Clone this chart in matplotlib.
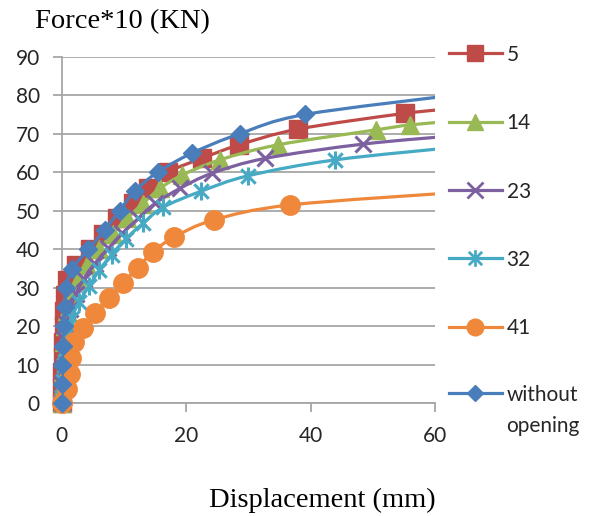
import numpy as np
import matplotlib
matplotlib.use('Agg')
import matplotlib.pyplot as plt
from matplotlib.path import Path
from matplotlib.patches import PathPatch
from matplotlib.lines import Line2D

# ---------------- data ----------------
labels = ['5', '14', '23', '32', '41', 'without opening']

x_5 = [0, 0.05, 0.1, 0.15, 0.2, 0.3, 0.4, 0.55, 0.9, 2.3, 4.5, 6.6, 8.9, 11.4, 13.9, 17.0, 22.5, 28.5, 38.0, 55.2, 64]
y_5 = [0, 4, 8, 12, 16, 20, 24, 28, 32, 36, 40, 44, 48, 52, 56, 60, 63.6, 67.1, 71.2, 75.3, 76.6]

x_14 = [0, 0.1, 0.15, 0.2, 0.3, 0.45, 0.8, 1.4, 2.6, 4.1, 6.0, 8.2, 10.5, 13.0, 15.8, 19.4, 25.4, 34.7, 50.5, 56.0, 64]
y_14 = [0, 4, 8, 12, 16, 20, 24, 28, 32, 36, 40, 44, 48, 51.8, 55.8, 59.3, 63.2, 67.1, 71.0, 72.3, 73.4]

x_23 = [0, 0.1, 0.15, 0.25, 0.4, 0.8, 1.4, 2.3, 3.6, 5.3, 7.5, 9.7, 12.3, 15.0, 19.0, 24.1, 32.7, 48.4, 64]
y_23 = [0, 5.1, 9.0, 12.9, 16.8, 20.7, 24.6, 28.5, 32.4, 36.3, 40.2, 44.1, 48.0, 51.9, 55.8, 59.7, 63.6, 67.3, 69.6]

x_32 = [0, 0.05, 0.15, 0.3, 0.55, 0.9, 1.6, 2.8, 4.4, 6.0, 8.0, 10.3, 13.1, 16.3, 22.3, 30.0, 43.9, 64]
y_32 = [0, 1.7, 5.8, 9.9, 14.0, 18.1, 22.2, 26.3, 30.4, 34.5, 38.6, 42.7, 46.8, 50.9, 55.0, 59.1, 63.2, 66.6]

x_41 = [0, 0.9, 1.3, 1.5, 1.9, 3.4, 5.4, 7.6, 9.8, 12.2, 14.6, 18.0, 24.4, 36.7, 64]
y_41 = [0, 3.8, 7.5, 11.8, 15.8, 19.6, 23.5, 27.4, 31.2, 35.2, 39.2, 43.1, 47.6, 51.5, 54.8]

x_wo = [0, 0.05, 0.1, 0.15, 0.3, 0.45, 0.7, 1.7, 4.3, 6.9, 9.3, 11.7, 15.4, 21.0, 28.6, 39.1, 64]
y_wo = [0, 5, 10, 15, 20, 25, 30, 35, 40, 45, 50, 55, 60, 65, 70, 75, 80.2]

xs = [x_5, x_14, x_23, x_32, x_41, x_wo]
ys = [y_5, y_14, y_23, y_32, y_41, y_wo]

x_ticks = [0, 20, 40, 60]
y_ticks = [0, 10, 20, 30, 40, 50, 60, 70, 80, 90]

# ---------------- styles ----------------
colors = ['#BE4B48', '#98B954', '#7D60A0', '#46AAC5', '#F0883C', '#4A7EBB']

star = Path([(0, -1), (0, 1), (-0.8, -0.8), (0.8, 0.8), (-0.8, 0.8), (0.8, -0.8)],
            [Path.MOVETO, Path.LINETO, Path.MOVETO, Path.LINETO, Path.MOVETO, Path.LINETO])
markers = ['s', '^', 'x', star, 'o', 'D']
msizes = [12.5, 13.5, 12, 13, 14, 9.5]
leg_msizes = [11.5, 12, 11, 12, 12, 8.5]
filled = [True, True, False, False, True, True]

plt.rcParams['font.family'] = ['Lato', 'DejaVu Sans']


def smooth_path(x, y):
    pts = np.column_stack([x, y]).astype(float)
    n = len(pts)
    verts = [pts[0]]
    codes = [Path.MOVETO]
    for i in range(n - 1):
        p0 = pts[i - 1] if i > 0 else pts[i]
        p1 = pts[i]
        p2 = pts[i + 1]
        p3 = pts[i + 2] if i + 2 < n else pts[i + 1]
        c1 = p1 + (p2 - p0) / 6.0
        c2 = p2 - (p3 - p1) / 6.0
        verts += [c1, c2, p2]
        codes += [Path.CURVE4] * 3
    return Path(verts, codes)


W, H = 597, 516
fig = plt.figure(figsize=(W / 100, H / 100), dpi=100)
x0, x1, yt, yb = 61.7, 435.2, 56.7, 403.3
ax = fig.add_axes([x0 / W, (H - yb) / H, (x1 - x0) / W, (yb - yt) / H])
ax.set_xlim(0, 60)
ax.set_ylim(0, 90)
ax.set_xticks(x_ticks)
ax.set_yticks(y_ticks)

grid_c = '#A6A6A6'
ax.yaxis.grid(True, color=grid_c, lw=1.3)
ax.set_axisbelow(True)
for s in ['top', 'right']:
    ax.spines[s].set_visible(False)
for s in ['left', 'bottom']:
    ax.spines[s].set_color(grid_c)
    ax.spines[s].set_linewidth(1.3)
ax.tick_params(axis='both', direction='out', color=grid_c, width=1.3,
               labelsize=15, labelcolor='#262626')
ax.tick_params(axis='y', length=6.3, pad=9.5)
ax.tick_params(axis='x', length=6.5, pad=10)

for i, (xx, yy) in enumerate(zip(xs, ys)):
    c = colors[i]
    ax.add_patch(PathPatch(smooth_path(xx, yy), fill=False, edgecolor=c, lw=2.3,
                           zorder=3 + 2 * i, capstyle='round', joinstyle='round'))
    xx_a = np.array(xx)
    yy_a = np.array(yy)
    keep = xx_a <= 60
    ax.plot(xx_a[keep], yy_a[keep], linestyle='none', marker=markers[i], ms=msizes[i],
            color=c, mfc=c if filled[i] else 'none', mec=c,
            mew=2.2 if not filled[i] else 1, clip_on=False, zorder=4 + 2 * i)

# texts
fig.text(35 / W, 1 - 28.5 / H, 'Force*10 (KN)', family='Liberation Serif', fontsize=20.5,
         ha='left', va='baseline', color='black')
fig.text(322.5 / W, 1 - 507 / H, 'Displacement (mm)', family='Liberation Serif', fontsize=20.5,
         ha='center', va='baseline', color='black')

# legend (manual, right side)
leg_y = [53.3, 121.7, 190, 258.3, 326.7, 393.3]
for i, lab in enumerate(labels):
    yy = 1 - leg_y[i] / H
    c = colors[i]
    fig.add_artist(Line2D([449 / W, 475.5 / W, 502 / W], [yy, yy, yy], transform=fig.transFigure,
                          color=c, lw=2.3, marker=markers[i], markevery=[1], ms=leg_msizes[i],
                          mfc=c if filled[i] else 'none', mec=c,
                          mew=2 if not filled[i] else 1))
    words = lab.split(' ')
    for k, w in enumerate(words):
        base = leg_y[i] + 7.5 + k * 31.5
        fig.text(506.5 / W, 1 - base / H, w, fontsize=15, ha='left', va='baseline', color='#262626')

fig.savefig('out.png', dpi=100)
